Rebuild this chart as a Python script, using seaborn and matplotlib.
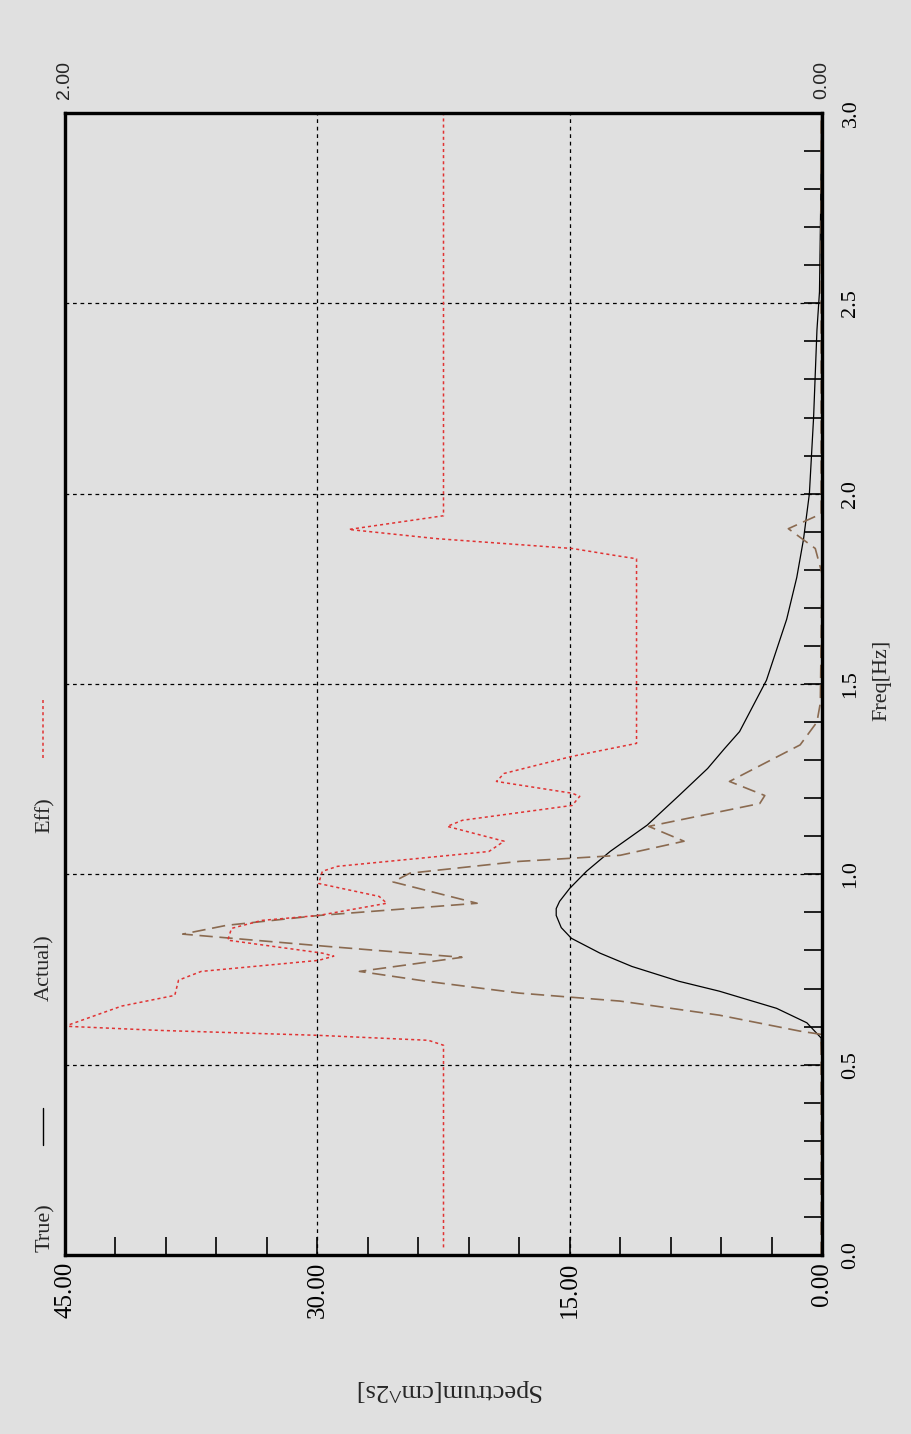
import numpy as np
import pandas as pd
import seaborn as sns
import matplotlib.pyplot as plt
from matplotlib.lines import Line2D
from matplotlib.ticker import MultipleLocator, FixedLocator, FormatStrFormatter

# True spectrum (solid black)
true_freq = [0.0, 0.30, 0.50, 0.57, 0.61, 0.648, 0.693, 0.719, 0.758, 0.793, 0.832, 0.86,
             0.892, 0.91, 0.929, 0.963, 1.008, 1.06, 1.129, 1.207, 1.278, 1.33, 1.375,
             1.51, 1.67, 1.78, 1.88, 2.0, 2.2, 2.43, 2.53, 2.75, 3.0]
true_spec = [0.0, 0.0, 0.0, 0.05, 0.9, 2.7, 6.1, 8.5, 11.3, 13.2, 14.9, 15.5,
             15.8, 15.8, 15.6, 15.0, 14.0, 12.6, 10.4, 8.5, 6.8, 5.8, 4.9,
             3.3, 2.1, 1.5, 1.1, 0.75, 0.5, 0.3, 0.15, 0.08, 0.03]

# Actual spectrum (brown dashed)
act_freq = [0.0, 0.55, 0.58, 0.588, 0.63, 0.667, 0.688, 0.719, 0.745, 0.782, 0.811, 0.843,
            0.866, 0.892, 0.924, 0.98, 1.003, 1.034, 1.05, 1.087, 1.126, 1.186, 1.207,
            1.244, 1.34, 1.40, 1.45, 1.79, 1.856, 1.908, 1.947, 3.0]
act_spec = [0.05, 0.05, 0.1, 1.3, 6.1, 12.0, 18.0, 23.5, 27.5, 21.4, 29.5, 38.0,
            35.4, 29.9, 20.5, 25.5, 24.5, 18.0, 12.0, 8.2, 10.3, 3.7, 3.4,
            5.5, 1.3, 0.3, 0.1, 0.0, 0.4, 2.0, 0.05, 0.05]

# Efficiency (red dotted, top axis 0..2)
eff_freq = [0.02, 0.551, 0.564, 0.577, 0.59, 0.601, 0.654, 0.682, 0.722, 0.745, 0.774, 0.785,
            0.793, 0.827, 0.858, 0.879, 0.892, 0.924, 0.942, 0.976, 1.008, 1.021, 1.06,
            1.087, 1.126, 1.142, 1.181, 1.205, 1.213, 1.244, 1.265, 1.31, 1.344, 1.829,
            1.835, 1.856, 1.882, 1.906, 1.942, 3.0]
eff_val = [1.0, 1.0, 1.04, 1.33, 1.75, 2.0, 1.85, 1.71, 1.70, 1.64, 1.33, 1.29,
           1.32, 1.57, 1.56, 1.48, 1.33, 1.15, 1.17, 1.33, 1.32, 1.28, 0.88,
           0.84, 0.99, 0.95, 0.66, 0.64, 0.66, 0.86, 0.84, 0.66, 0.49, 0.49,
           0.53, 0.66, 1.02, 1.25, 1.0, 1.0]

spec_ticks = [0, 15, 30, 45]
freq_ticks = [0.0, 0.5, 1.0, 1.5, 2.0, 2.5, 3.0]
eff_ticks = [0.0, 2.0]

bg = "#e0e0e0"
red = "#e03333"
sns.set_theme(style="ticks", rc={"axes.facecolor": bg, "figure.facecolor": bg,
                                 "savefig.facecolor": bg})
plt.rcParams['font.family'] = ['Liberation Serif', 'DejaVu Serif']

fig = plt.figure(figsize=(9.11, 14.34), dpi=100)
ax = fig.add_axes([65 / 911, 1 - 1255 / 1434, (822 - 65) / 911, (1255 - 113) / 1434])

sns.lineplot(x=true_spec, y=true_freq, sort=False, estimator=None, ax=ax,
             color="black", linewidth=0.9)
sns.lineplot(x=act_spec, y=act_freq, sort=False, estimator=None, ax=ax,
             color="#8a6a50", linewidth=1.2, linestyle=(0, (8, 4)))

ax.set_xlim(45, 0)
ax.set_ylim(0, 3)
ax.xaxis.set_major_locator(FixedLocator(spec_ticks))
ax.xaxis.set_minor_locator(MultipleLocator(3))
ax.xaxis.set_major_formatter(FormatStrFormatter('%.2f'))
ax.yaxis.set_major_locator(FixedLocator(freq_ticks))
ax.yaxis.set_minor_locator(MultipleLocator(0.1))
ax.yaxis.set_major_formatter(FormatStrFormatter('%.1f'))
ax.grid(True, which='major', color='black', linestyle=(0, (3, 3)), linewidth=0.9)
ax.set_xlabel('')
ax.set_ylabel('')

ax2 = ax.twiny()
sns.lineplot(x=eff_val, y=eff_freq, sort=False, estimator=None, ax=ax2,
             color=red, linewidth=1.1, linestyle=(0, (2, 2)))
ax2.set_xlim(2, 0)
ax2.xaxis.set_major_locator(FixedLocator(eff_ticks))
ax2.xaxis.set_major_formatter(FormatStrFormatter('%.2f'))
ax2.set_xlabel('')
ax2.tick_params(axis='x', which='both', length=0, labelrotation=90, labelsize=14, pad=10)
for lbl in ax2.get_xticklabels():
    lbl.set_family(['Liberation Sans', 'DejaVu Sans'])

ax.yaxis.tick_right()
ax.tick_params(axis='x', which='both', direction='in', length=13, width=1.2,
               bottom=True, top=False, labelrotation=90, labelsize=18, pad=5, colors='black')
ax.tick_params(axis='y', which='both', direction='in', length=13, width=1.2,
               right=True, left=False, labelright=True, labelleft=False,
               labelrotation=90, labelsize=16, pad=14, colors='black')
plt.setp(ax.get_yticklabels(), va='center')

for a in (ax, ax2):
    for sp in a.spines.values():
        sp.set_visible(True)
        sp.set_color('black')
        sp.set_linewidth(2.3)

# axis titles
fig.text(882 / 911, 1 - 680 / 1434, 'Freq[Hz]', rotation=90, ha='center', va='center', fontsize=16)
fig.text(447 / 911, 1 - 1390 / 1434, 'Spectrum[cm^2s]', rotation=180, ha='center', va='center', fontsize=19)

# legend along the left edge
fig.text(45 / 911, 1 - 1228 / 1434, 'True)', rotation=90, ha='center', va='center', fontsize=16)
fig.text(45 / 911, 1 - 968 / 1434, 'Actual)', rotation=90, ha='center', va='center', fontsize=16)
fig.text(45 / 911, 1 - 815 / 1434, 'Eff)', rotation=90, ha='center', va='center', fontsize=16)
fig.add_artist(Line2D([43 / 911, 43 / 911], [1 - 1145 / 1434, 1 - 1108 / 1434],
                      transform=fig.transFigure, color='black', linewidth=1.0))
fig.add_artist(Line2D([43 / 911, 43 / 911], [1 - 758 / 1434, 1 - 700 / 1434],
                      transform=fig.transFigure, color=red, linewidth=1.1,
                      linestyle=(0, (2, 2))))

fig.savefig('out.png', dpi=100)
